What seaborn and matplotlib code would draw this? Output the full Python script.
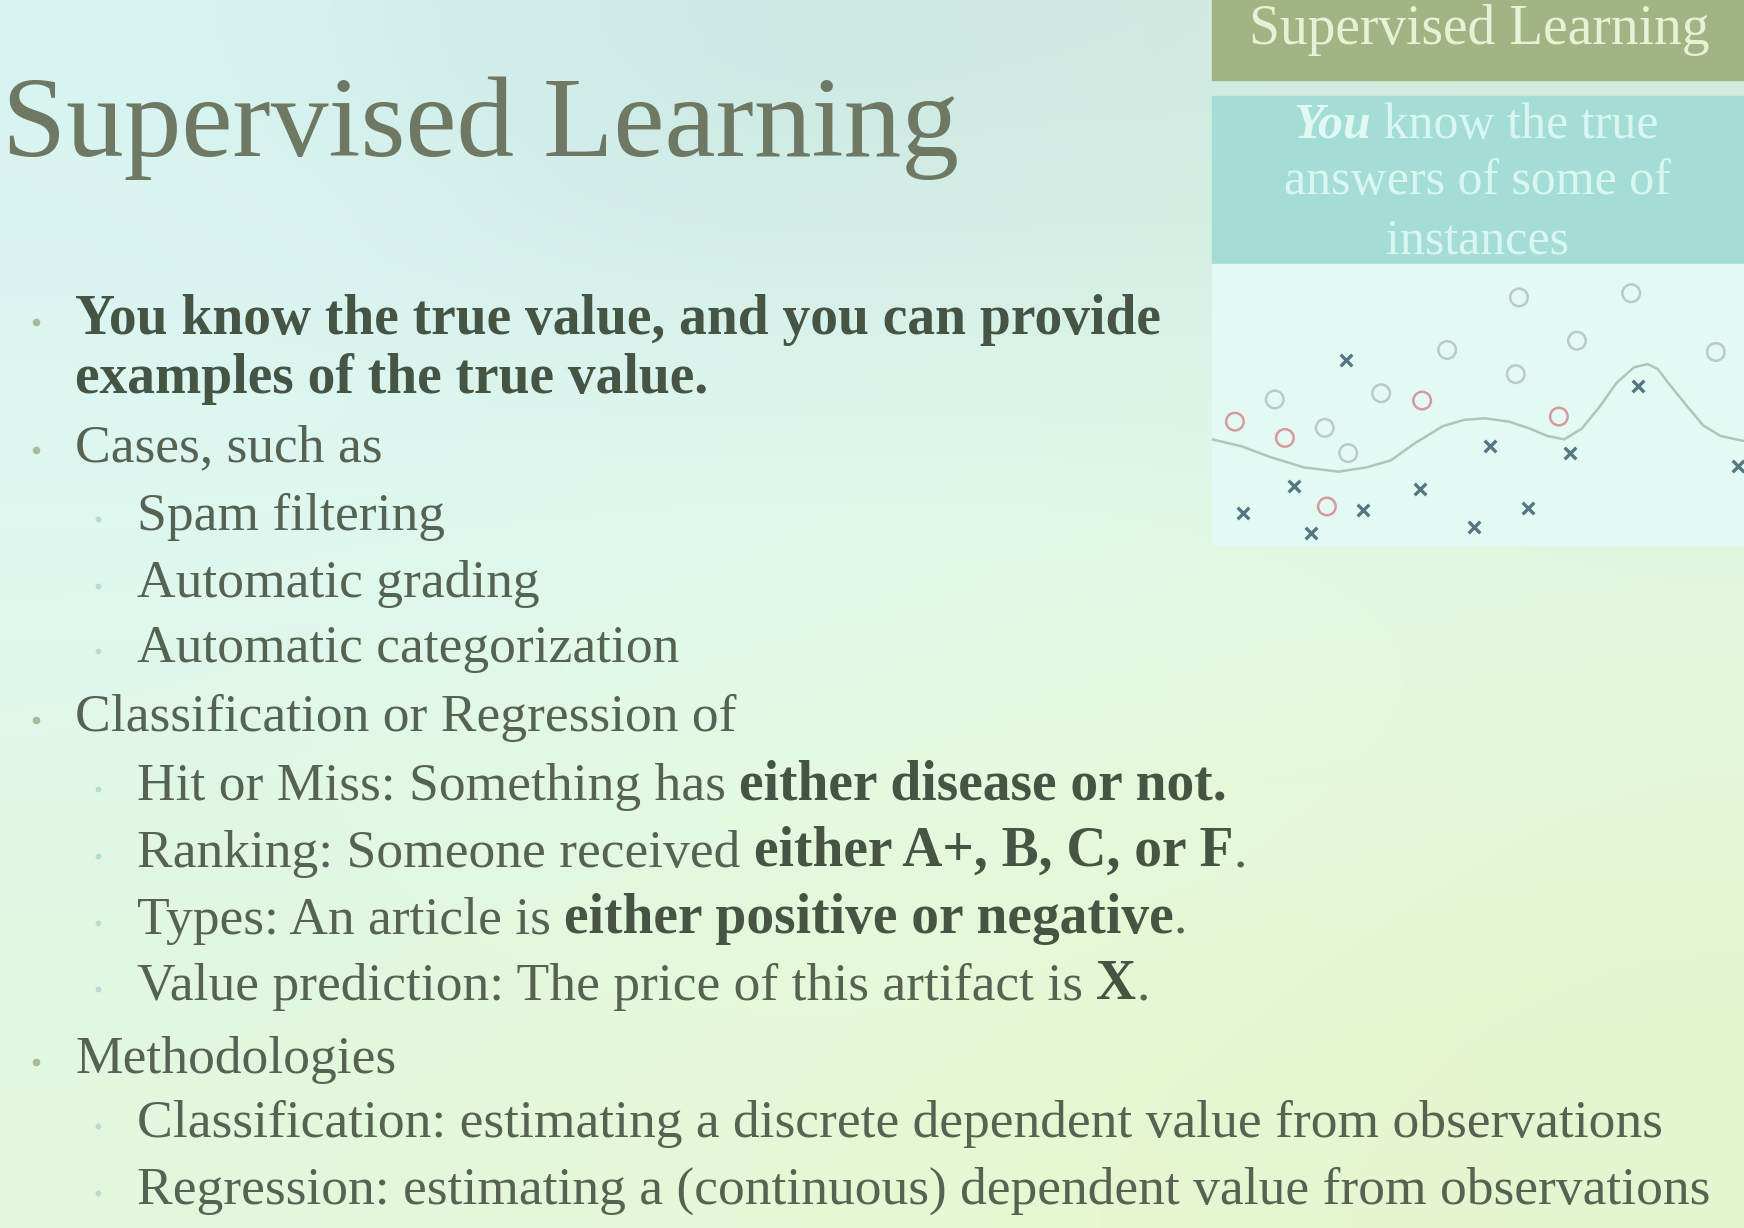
import numpy as np
import pandas as pd
import matplotlib
matplotlib.use("Agg")
import matplotlib.pyplot as plt
import seaborn as sns
from matplotlib.patches import Rectangle

sns.set_theme(style="white")
plt.rcParams["font.family"] = ["Liberation Serif", "DejaVu Serif"]

W, H = 1744, 1228

# ---- slide text ----
title = "Supervised Learning"
side_title = "Supervised Learning"
side_note = ["know the true", "answers of some of", "instances"]

# (level, [(text, bold), ...]) ; level 0 = continuation line without bullet
bullet_lines = [
    (1, [("You know the true value, and you can provide", True)]),
    (0, [("examples of the true value.", True)]),
    (1, [("Cases, such as", False)]),
    (2, [("Spam filtering", False)]),
    (2, [("Automatic grading", False)]),
    (2, [("Automatic categorization", False)]),
    (1, [("Classification or Regression of", False)]),
    (2, [("Hit or Miss: Something has ", False), ("either disease or not.", True)]),
    (2, [("Ranking: Someone received ", False), ("either A+, B, C, or F", True), (".", False)]),
    (2, [("Types: An article is ", False), ("either positive or negative", True), (".", False)]),
    (2, [("Value prediction: The price of this artifact is ", False), ("X", True), (".", False)]),
    (1, [("Methodologies", False)]),
    (2, [("Classification: estimating a discrete dependent value from observations", False)]),
    (2, [("Regression: estimating a (continuous) dependent value from observations", False)]),
]

# ---- sketch in the side panel (panel units 0-100) ----
circle_x = [4.3, 11.8, 13.7, 21.2, 25.6, 31.8, 39.5, 44.2, 57.7, 57.1, 68.6, 78.8, 65.2, 94.7, 21.6]
circle_y = [43.9, 51.8, 38.1, 41.7, 32.7, 54.0, 51.4, 69.4, 88.1, 60.8, 72.7, 89.6, 45.7, 68.7, 13.7]
circle_tone = ["red", "grey", "red", "grey", "grey", "grey", "red", "grey",
               "grey", "grey", "grey", "grey", "red", "grey", "red"]
cross_x = [25.2, 15.4, 5.8, 18.6, 28.4, 39.1, 52.3, 49.2, 59.4, 67.3, 80.1, 98.9]
cross_y = [65.8, 20.9, 11.5, 4.3, 12.6, 20.1, 35.3, 6.5, 13.3, 32.7, 56.5, 28.1]
boundary_x = [0.0, 5.6, 10.8, 17.3, 23.8, 29.0, 33.6, 38.2, 43.4, 47.3, 51.3, 55.8, 59.8,
              63.0, 66.2, 69.5, 72.7, 76.0, 79.3, 81.9, 83.8, 85.8, 89.0, 92.3, 95.6, 100.0]
boundary_y = [37.6, 35.1, 31.4, 27.6, 26.1, 27.6, 30.1, 36.3, 42.3, 44.5, 45.1, 43.9, 41.4,
              38.8, 37.6, 41.4, 48.8, 57.6, 63.2, 64.4, 62.6, 57.6, 50.1, 42.6, 38.8, 37.0]

circles = pd.DataFrame({"x": circle_x, "y": circle_y, "tone": circle_tone})
crosses = pd.DataFrame({"x": cross_x, "y": cross_y})
boundary = pd.DataFrame({"x": boundary_x, "y": boundary_y})

fig = plt.figure(figsize=(W / 100, H / 100), dpi=100)
ax = fig.add_axes([0, 0, 1, 1])
ax.set_xlim(0, W)
ax.set_ylim(H, 0)
ax.axis("off")

# projected-slide background
bg = np.array([
    [[0.85, 0.96, 0.95], [0.80, 0.91, 0.90], [0.81, 0.92, 0.89], [0.82, 0.92, 0.86]],
    [[0.87, 0.97, 0.95], [0.88, 0.98, 0.95], [0.88, 0.98, 0.93], [0.88, 0.97, 0.90]],
    [[0.88, 0.97, 0.91], [0.89, 0.98, 0.90], [0.90, 0.98, 0.86], [0.90, 0.97, 0.84]],
    [[0.89, 0.97, 0.87], [0.90, 0.97, 0.84], [0.91, 0.97, 0.82], [0.90, 0.96, 0.81]],
])
ax.imshow(bg, extent=(0, W, H, 0), interpolation="bicubic", aspect="auto", zorder=0)

# side header boxes
ax.add_patch(Rectangle((1212, 0), 532, 80, color="#a2b384", zorder=1))
ax.add_patch(Rectangle((1212, 96), 532, 168, color="#a3ddd6", zorder=1))
ax.add_patch(Rectangle((1212, 264), 532, 281, color="#e3faf4", zorder=1))
ax.text(1479, 30, side_title, fontsize=40, color="#e6f2d6", ha="center", va="center", zorder=2)
t = ax.text(1293, 126, "You", fontsize=36, color="#e2f8f2", weight="bold", style="italic",
            ha="left", va="center", zorder=2)
ax.annotate(" " + side_note[0], xy=(1, 0), xycoords=t, fontsize=36, color="#daf6f0",
            ha="left", va="bottom", zorder=2)
ax.text(1477, 182, side_note[1], fontsize=36, color="#daf6f0", ha="center", va="center", zorder=2)
ax.text(1477, 241, side_note[2], fontsize=36, color="#daf6f0", ha="center", va="center", zorder=2)

# title
ax.text(2, 128, title, fontsize=83, color="#6e7862", ha="left", va="center", zorder=2)

# bullets
line_y = [320, 379, 448, 517, 584, 649, 718, 787, 854, 921, 987, 1060, 1124, 1191]
text_x = {0: 75, 1: 75, 2: 137}
dot_x = {1: 36, 2: 98}
for (level, parts), y in zip(bullet_lines, line_y):
    if level in dot_x:
        ax.scatter(dot_x[level], y + 2, s=30 if level == 1 else 18,
                   color="#a9b99a" if level == 1 else "#b6dcd2", zorder=2, linewidths=0)
    prev = None
    for txt, bold in parts:
        kw = dict(fontsize=40 if bold else 38.5, weight="bold" if bold else "normal",
                  color="#465443" if bold else "#566353", zorder=2)
        if prev is None:
            prev = ax.text(text_x[level], y, txt, ha="left", va="center", **kw)
        else:
            prev = ax.annotate(txt, xy=(1, 0), xycoords=prev, ha="left", va="bottom", **kw)

# sketch panel
sk = fig.add_axes([1212 / W, 1 - 545 / H, 532 / W, 281 / H])
sk.set_xlim(0, 100)
sk.set_ylim(0, 100)
sk.axis("off")
sk.patch.set_alpha(0)
sns.lineplot(data=boundary, x="x", y="y", sort=False, color="#aec6b8", linewidth=1.8, ax=sk)
for tone, col in [("grey", "#bcc8cb"), ("red", "#d79a9c")]:
    sub = circles[circles["tone"] == tone]
    sns.scatterplot(data=sub, x="x", y="y", marker="o", s=160, facecolor="none",
                    edgecolor=col, linewidth=1.8, ax=sk)
sns.scatterplot(data=crosses, x="x", y="y", marker="x", s=70, color="#557784",
                linewidth=2.4, ax=sk)
sk.set_xlim(0, 100)
sk.set_ylim(0, 100)

fig.savefig("out.png", dpi=100)
